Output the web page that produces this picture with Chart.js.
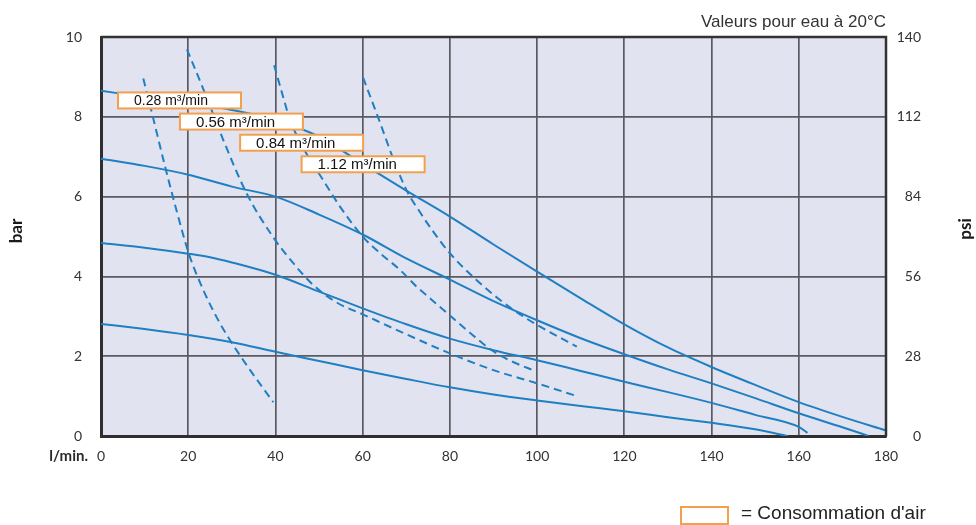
<!DOCTYPE html>
<html>
<head>
<meta charset="utf-8">
<script src="https://cdn.jsdelivr.net/npm/chart.js@4/dist/chart.umd.min.js"></script>
<style>
  body { margin: 0; background: #fff; }
  #wrap { width: 976px; height: 525px; }
</style>
</head>
<body>
<div id="wrap"><canvas id="pumpChart" width="976" height="525"></canvas></div>
<script>
// pump curves, pressure (bar) against flow (l/min)
const flow1 = [0, 10, 20, 30, 40, 50, 60, 70, 80, 90, 100, 110, 120, 130, 140, 150, 160, 170, 180];
const pres1 = [8.65, 8.5, 8.36, 8.17, 7.92, 7.5, 6.82, 6.15, 5.5, 4.8, 4.12, 3.45, 2.8, 2.22, 1.73, 1.28, 0.85, 0.48, 0.14];
const flow2 = [0, 10, 20, 30, 40, 50, 60, 70, 80, 90, 100, 110, 120, 130, 140, 150, 160, 170, 176];
const pres2 = [6.95, 6.77, 6.55, 6.25, 6.0, 5.55, 5.05, 4.45, 3.92, 3.38, 2.9, 2.45, 2.05, 1.67, 1.32, 0.95, 0.57, 0.22, 0];
const flow3 = [0, 10, 20, 25, 30, 40, 50, 60, 70, 80, 90, 100, 110, 120, 130, 140, 150, 160, 162];
const pres3 = [4.84, 4.72, 4.57, 4.48, 4.35, 4.04, 3.62, 3.2, 2.8, 2.44, 2.15, 1.9, 1.63, 1.36, 1.1, 0.83, 0.53, 0.23, 0.08];
const flow4 = [0, 10, 20, 30, 40, 50, 60, 70, 80, 90, 100, 110, 120, 130, 140, 150, 157.5];
const pres4 = [2.81, 2.68, 2.53, 2.35, 2.11, 1.88, 1.65, 1.43, 1.22, 1.04, 0.89, 0.75, 0.62, 0.47, 0.33, 0.17, 0];

// air consumption lines (dashed)
const airFlow1 = [9.7, 12, 14.7, 17.4, 20.2, 23.5, 26.5, 29.6, 34.2, 39.5];
const airPres1 = [8.96, 7.95, 6.75, 5.62, 4.55, 3.65, 2.98, 2.4, 1.65, 0.85];
const airFlow2 = [19.7, 24, 28, 33.4, 39.5, 44.1, 48.7, 54, 60, 70, 80, 90, 100, 109.1];
const airPres2 = [9.69, 8.55, 7.43, 6.08, 4.98, 4.33, 3.78, 3.35, 3.05, 2.55, 2.07, 1.65, 1.32, 1.0];
const airFlow3 = [39.7, 41.5, 43.3, 47, 50.9, 54.8, 60, 64, 68.6, 72.4, 76.2, 80, 85, 89.2, 94, 99.5];
const airPres3 = [9.29, 8.6, 7.94, 7.1, 6.42, 5.75, 5.0, 4.58, 4.16, 3.74, 3.38, 3.02, 2.55, 2.18, 1.88, 1.63];
const airFlow4 = [60.1, 64, 67, 70.1, 73.2, 76, 80, 86.1, 91.5, 96.9, 103, 109.1];
const airPres4 = [8.98, 7.85, 6.95, 6.15, 5.6, 5.15, 4.58, 3.91, 3.41, 2.99, 2.6, 2.24];

const airLabels = ["0.28 m³/min", "0.56 m³/min", "0.84 m³/min", "1.12 m³/min"];

// label boxes: left edge (l/min) and centre (bar)
const boxSpots = [[3.9, 8.41], [18.1, 7.88], [31.9, 7.35], [46.0, 6.81]];
const boxFonts = [14, 15, 15, 15];

const blue = "#1f7fc2";
const orange = "#f2a04e";

function toPoints(xs, ys) {
  return xs.map((x, i) => ({ x: x, y: ys[i] }));
}

function curve(xs, ys, dashed) {
  return {
    data: toPoints(xs, ys),
    borderColor: blue,
    borderWidth: 2,
    borderDash: dashed ? [8, 5] : [],
    pointRadius: 0,
    fill: false,
    cubicInterpolationMode: "monotone",
  };
}

const decor = {
  id: "decor",
  beforeDraw(chart) {
    const { ctx, chartArea: a } = chart;
    ctx.save();
    ctx.fillStyle = "#e1e4f0";
    ctx.fillRect(a.left, a.top, a.right - a.left, a.bottom - a.top);
    ctx.restore();
  },
  afterDatasetsDraw(chart) {
    const ctx = chart.ctx;
    const xs = chart.scales.x, ys = chart.scales.y;
    ctx.save();
    boxSpots.forEach((s, i) => {
      const left = xs.getPixelForValue(s[0]);
      const mid = ys.getPixelForValue(s[1]);
      ctx.fillStyle = "#fff";
      ctx.fillRect(left, mid - 8, 123, 16);
      ctx.strokeStyle = orange;
      ctx.lineWidth = 2;
      ctx.strokeRect(left, mid - 8, 123, 16);
      ctx.fillStyle = "#111";
      ctx.font = boxFonts[i] + "px 'Liberation Sans', Arial";
      ctx.textBaseline = "middle";
      ctx.textAlign = "left";
      ctx.fillText(airLabels[i], left + 16, mid + 1);
    });
    ctx.restore();
  },
  afterDraw(chart) {
    const { ctx, chartArea: a } = chart;
    ctx.save();
    ctx.strokeStyle = "#333";
    ctx.lineWidth = 2.5;
    ctx.beginPath();
    ctx.moveTo(a.left, a.top);
    ctx.lineTo(a.right, a.top);
    ctx.lineTo(a.right, a.bottom);
    ctx.stroke();

    ctx.fillStyle = "#1a1a1a";
    ctx.font = "bold 17px Lato";
    ctx.textAlign = "center";
    ctx.textBaseline = "middle";
    ctx.save();
    ctx.translate(17, 231);
    ctx.rotate(-Math.PI / 2);
    ctx.fillText("bar", 0, 0);
    ctx.restore();
    ctx.save();
    ctx.translate(966, 229);
    ctx.rotate(-Math.PI / 2);
    ctx.fillText("psi", 0, 0);
    ctx.restore();

    ctx.font = "bold 15px Lato";
    ctx.fillStyle = "#2a2a2a";
    ctx.textAlign = "right";
    ctx.fillText("l/min.", 88, 456);

    ctx.font = "17px 'Liberation Sans', Arial";
    ctx.fillStyle = "#333";
    ctx.textAlign = "right";
    ctx.fillText("Valeurs pour eau à 20°C", a.right, 22);

    ctx.strokeStyle = orange;
    ctx.lineWidth = 2;
    ctx.strokeRect(681, 507, 47, 17);
    ctx.font = "19px 'Liberation Sans', Arial";
    ctx.fillStyle = "#222";
    ctx.textAlign = "left";
    ctx.fillText("= Consommation d'air", 741, 514);
    ctx.restore();
  },
};

const gridStyle = { color: "#5a5a60", lineWidth: 1.7, drawTicks: false };
const tickFont = { family: "Lato", size: 14 };

new Chart(document.getElementById("pumpChart").getContext("2d"), {
  type: "line",
  data: {
    datasets: [
      curve(flow1, pres1, false),
      curve(flow2, pres2, false),
      curve(flow3, pres3, false),
      curve(flow4, pres4, false),
      curve(airFlow1, airPres1, true),
      curve(airFlow2, airPres2, true),
      curve(airFlow3, airPres3, true),
      curve(airFlow4, airPres4, true),
    ],
  },
  options: {
    responsive: false,
    animation: false,
    layout: { padding: { top: 37, left: 0, right: 55, bottom: 0 } },
    plugins: { legend: { display: false }, tooltip: { enabled: false } },
    scales: {
      x: {
        type: "linear",
        min: 0,
        max: 180,
        ticks: { stepSize: 20, padding: 12, color: "#333", font: tickFont },
        grid: gridStyle,
        border: { display: true, color: "#2f2f2f", width: 3 },
        afterFit: (s) => { s.height = 89; },
      },
      y: {
        position: "left",
        min: 0,
        max: 10,
        ticks: { stepSize: 2, padding: 19, color: "#333", font: tickFont },
        grid: gridStyle,
        border: { display: true, color: "#2f2f2f", width: 3 },
        afterFit: (s) => { s.width = 101; },
      },
      psi: {
        position: "right",
        min: 0,
        max: 140,
        ticks: { stepSize: 28, padding: 10, crossAlign: "far", color: "#333", font: tickFont },
        grid: { drawOnChartArea: false, drawTicks: false },
        border: { display: true, color: "#2f2f2f", width: 2 },
        afterFit: (s) => { s.width = 35; },
      },
    },
  },
  plugins: [decor],
});
</script>
</body>
</html>
